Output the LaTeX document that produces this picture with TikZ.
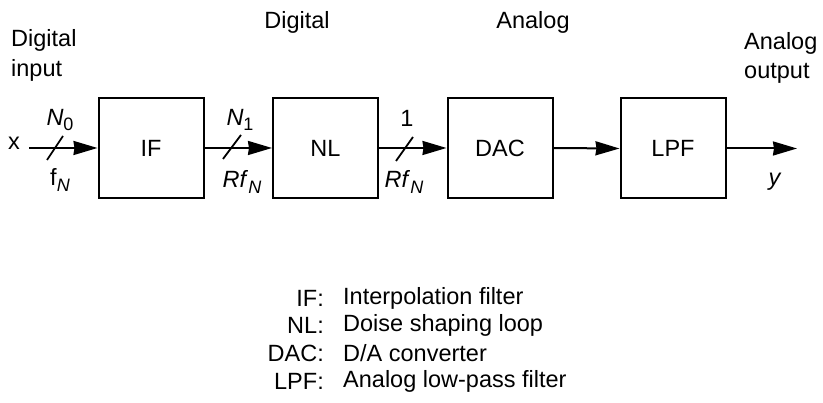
\documentclass[tikz,border=0pt]{standalone}
\usepackage{fontspec}
\setmainfont{Liberation Sans}
\usetikzlibrary{arrows.meta}
\newcommand\subtxt[1]{\raisebox{-0.45ex}{\fontsize{18}{18}\selectfont #1}}
\begin{document}
\begin{tikzpicture}[x=1pt,y=-1pt,
  every node/.style={font=\fontsize{23.5}{28}\selectfont, inner sep=0pt},
  blockbox/.style={draw, line width=2pt, minimum width=105pt, minimum height=100pt},
  sig/.style={line width=2pt, -{Stealth[length=24pt,width=14pt,inset=1pt]}},
  slashline/.style={line width=1.8pt},
  lbl/.style={anchor=center}]
\useasboundingbox (0,0) rectangle (823,403);
% blocks
\node[blockbox] (if)  at (151,148) {IF};
\node[blockbox] (nl)  at (325.5,148) {NL};
\node[blockbox] (dac) at (500,148) {DAC};
\node[blockbox] (lpf) at (673,148.5) {LPF};
% input / output
\node (x) at (14,143) {x};
\coordinate (xin) at (29,148);
\coordinate (yout) at (797,148.5);
\draw[sig] (xin) -- (if.west);
\draw[sig] (if.east) -- (nl.west);
\draw[sig] (nl.east) -- (dac.west);
\draw[sig] (dac.east) -- (lpf.west);
\draw[sig] (lpf.east) -- (yout);
% slashes
\coordinate (s1a) at (47,160); \coordinate (s1b) at (63,136);
\coordinate (s2a) at (223,159); \coordinate (s2b) at (241,135);
\coordinate (s3a) at (396,161); \coordinate (s3b) at (413,137);
\draw[slashline] (s1a) -- (s1b);
\draw[slashline] (s2a) -- (s2b);
\draw[slashline] (s3a) -- (s3b);
% labels
\node (n0) at (60,120) {\textit{N}\subtxt{0}};
\node (fn) at (60,180) {f\subtxt{\textit{N}}};
\node (n1) at (240,120) {\textit{N}\subtxt{1}};
\node (rf1) at (242,182) {\textit{Rf}\subtxt{\textit{N}}};
\node (one) at (407,118) {1};
\node (rf2) at (404,182) {\textit{Rf}\subtxt{\textit{N}}};
\node (y) at (775,182) {\textit{y}};
% headings
\node[anchor=west] (din) at (11,40) {Digital};
\node[anchor=west] (din2) at (11,70) {input};
\node (dig) at (297,22) {Digital};
\node (ana) at (533,22) {Analog};
\node[anchor=west] (aout) at (744,43) {Analog};
\node[anchor=west] (aout2) at (744,73) {output};
% legend
\node[anchor=east] (k1) at (324,298) {IF:};
\node[anchor=east] (k2) at (324,325) {NL:};
\node[anchor=east] (k3) at (324,353) {DAC:};
\node[anchor=east] (k4) at (324,381) {LPF:};
\node[anchor=west] (d1) at (343,298) {Interpolation filter};
\node[anchor=west] (d2) at (343,325) {Doise shaping loop};
\node[anchor=west] (d3) at (343,353) {D/A converter};
\node[anchor=west] (d4) at (343,381) {Analog low-pass filter};
\end{tikzpicture}
\end{document}
